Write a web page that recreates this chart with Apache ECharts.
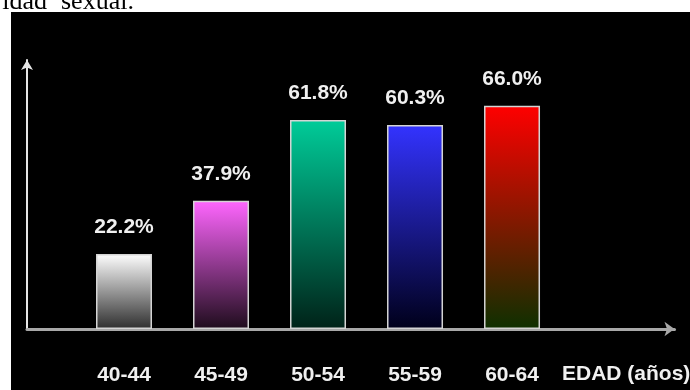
<!DOCTYPE html>
<html>
<head>
<meta charset="utf-8">
<script src="https://cdn.jsdelivr.net/npm/echarts@6/dist/echarts.min.js"></script>
<style>
html,body{margin:0;padding:0;background:#fff;}
#chart{width:690px;height:390px;}
</style>
</head>
<body>
<div id="chart"></div>
<script>
// Data
var categories = ['40-44', '45-49', '50-54', '55-59', '60-64'];
var values = [22.2, 37.9, 61.8, 60.3, 66.0];
var axisTitle = 'EDAD (años)';
var topTextLeft = 'idad';
var topTextRight = 'sexual.';
// gradient colours (top, bottom) per bar
var gradTop = ['#ffffff', '#ff66ff', '#00cc99', '#3333ff', '#ff0000'];
var gradBottom = ['#2e2e2e', '#1e0c1c', '#002218', '#00001a', '#0e3000'];

var chart = echarts.init(document.getElementById('chart'), null, {renderer: 'canvas'});
var LABEL_FONT = 'Liberation Sans, Arial, sans-serif';

var barData = values.map(function (v, i) {
  return {
    value: [i, v],
    itemStyle: {
      color: new echarts.graphic.LinearGradient(0, 0, 0, 1, [
        {offset: 0, color: gradTop[i]},
        {offset: 1, color: gradBottom[i]}
      ]),
      borderColor: '#d4d4d4',
      borderWidth: 1.5
    }
  };
});

chart.setOption({
  animation: false,
  backgroundColor: '#ffffff',
  graphic: [
    {type: 'rect', z: -10, silent: true, shape: {x: 11, y: 12, width: 679, height: 378}, style: {fill: '#000000'}},
    {type: 'text', z: 10, x: 47, y: 2, style: {text: topTextLeft, font: '26px "Liberation Serif", "Times New Roman", serif', fill: '#000', align: 'right', verticalAlign: 'middle'}},
    {type: 'text', z: 10, x: 61, y: 2, style: {text: topTextRight, font: '26px "Liberation Serif", "Times New Roman", serif', fill: '#000', align: 'left', verticalAlign: 'middle'}},
    {type: 'text', z: 10, x: 562, y: 374, style: {text: axisTitle, font: 'bold 21px "Liberation Sans", Arial, sans-serif', fill: '#f0f0f0', align: 'left', verticalAlign: 'middle'}}
  ],
  grid: {left: 27, right: 15.5, top: 60, bottom: 61, containLabel: false},
  xAxis: {
    type: 'value',
    min: -1,
    max: 5.675,
    interval: 1,
    splitLine: {show: false},
    axisTick: {show: false},
    axisLine: {
      show: true,
      onZero: false,
      symbol: ['none', 'arrow'],
      symbolSize: [11, 10],
      lineStyle: {color: '#a8a8a8', width: 3}
    },
    axisLabel: {
      margin: 36,
      color: '#f0f0f0',
      fontSize: 21,
      fontWeight: 'bold',
      fontFamily: LABEL_FONT,
      showMinLabel: true,
      showMaxLabel: false,
      formatter: function (v) {
        var i = Math.round(v);
        return (Math.abs(v - i) < 1e-6 && i >= 0 && i < categories.length) ? categories[i] : '';
      }
    }
  },
  yAxis: {
    type: 'value',
    min: 0,
    max: 79.5,
    splitLine: {show: false},
    axisTick: {show: false},
    axisLabel: {show: false},
    axisLine: {
      show: true,
      onZero: false,
      symbol: ['none', 'arrow'],
      symbolSize: [9, 10],
      lineStyle: {color: '#e6e6e6', width: 2}
    }
  },
  series: [{
    type: 'bar',
    barWidth: 56,
    data: barData,
    label: {
      show: true,
      position: 'top',
      distance: 16,
      color: '#f0f0f0',
      fontSize: 21,
      fontWeight: 'bold',
      fontFamily: LABEL_FONT,
      formatter: function (p) { return values[p.dataIndex].toFixed(1) + '%'; }
    }
  }]
});
</script>
</body>
</html>
